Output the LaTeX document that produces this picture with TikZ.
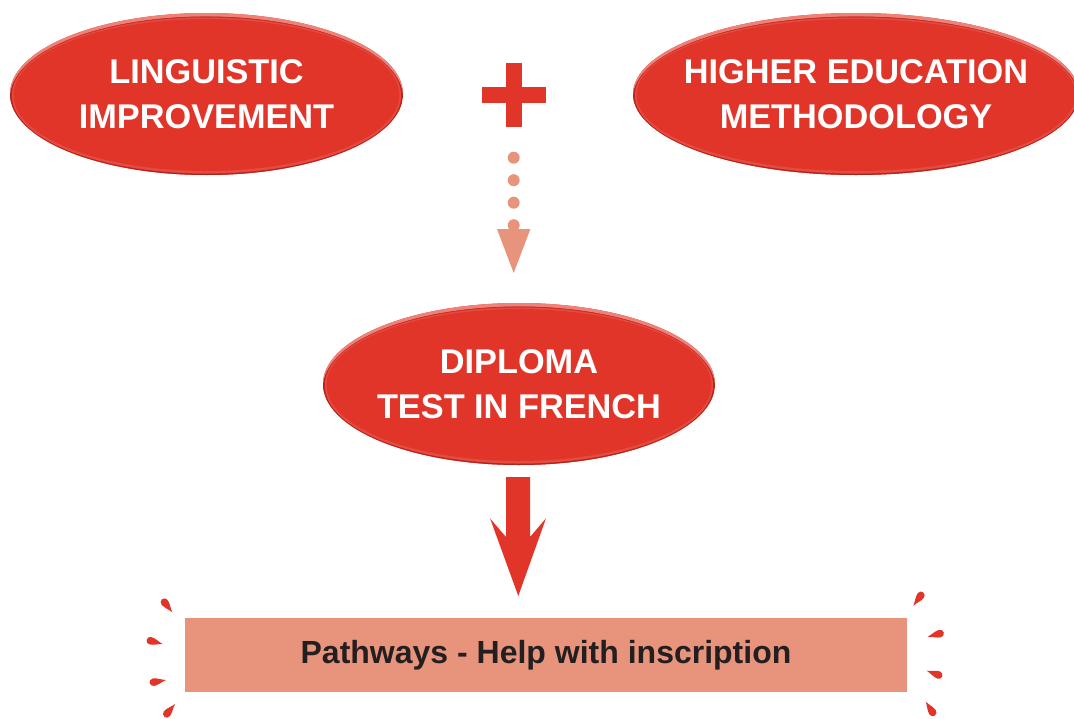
\documentclass[tikz,border=0pt]{standalone}
\usepackage{fontspec}
\setmainfont{Liberation Sans}
\usetikzlibrary{shapes.geometric,calc}
\definecolor{bred}{HTML}{E2352A}
\definecolor{rimlight}{HTML}{EE8178}
\definecolor{rimdark}{HTML}{B3231C}
\definecolor{salmon}{HTML}{E8937B}
\definecolor{darktext}{HTML}{231F20}
\newcommand\spark[3]{%
  \fill[bred, shift={(#1,#2)}, rotate=#3] (0,0) .. controls (4.5,1) and (8.5,3.8) .. (12.8,3.8)
    arc[start angle=90, end angle=-90, radius=3.8] .. controls (8.5,-3.8) and (4.5,-1) .. cycle;}
\begin{document}
\begin{tikzpicture}[x=1pt,y=1pt,
  eball/.style 2 args={ellipse, inner sep=0pt, fill=bred, minimum width=2*#1, minimum height=2*#2,
    path picture={
      \fill[rimlight] (path picture bounding box.south west) rectangle (path picture bounding box.north east);
      \fill[rimdark] ($(path picture bounding box.center)+(0,-3.5)$) ellipse[x radius=#1, y radius=#2];
      \fill[bred!60!rimdark] ($(path picture bounding box.center)+(0,-1.2)$) ellipse[x radius=#1-1.5, y radius=#2-2.5];
      \fill[bred!70!rimlight] ($(path picture bounding box.center)+(0,-1.5)$) ellipse[x radius=#1-2, y radius=#2-3];
      \fill[bred] ($(path picture bounding box.center)+(0,-1)$) ellipse[x radius=#1-3.5, y radius=#2-5];
    }},
  etext/.style={text=white, align=center, inner sep=0pt, font=\fontsize{34.3}{45}\selectfont\bfseries},
  pathbox/.style={fill=salmon, minimum width=722, minimum height=74, inner sep=0pt,
    text=darktext, font=\fontsize{32}{38}\selectfont\bfseries}]
\useasboundingbox (0,0) rectangle (1074,-718);

% ellipses
\node[eball={196.5}{81}] (e1) at (206.5,-94) {};
\node[etext] (t1) at (e1.center) {LINGUISTIC\\IMPROVEMENT};
\node[eball={223}{81}] (e2) at (856,-94) {};
\node[etext] (t2) at (e2.center) {HIGHER EDUCATION\\METHODOLOGY};
\node[eball={196}{81}] (e3) at (519,-384) {};
\node[etext] (t3) at (e3.center) {DIPLOMA\\TEST IN FRENCH};

% plus sign
\coordinate (plus) at (513.7,-95);
\fill[bred] ($(plus)+(-8,-32)$) rectangle ($(plus)+(8,32)$);
\fill[bred] ($(plus)+(-32,-8)$) rectangle ($(plus)+(32,8)$);

% dotted arrow
\foreach \yy in {157.7,180.2,202.7,225.2}
  \fill[salmon] (513.7,-\yy) circle[radius=6];
\coordinate (dtip) at (513.7,-273);
\fill[salmon] (497,-229) -- (530.4,-229) -- (dtip) -- cycle;

% rectangle
\node[pathbox] (box) at (546,-655) {Pathways - Help with inscription};

% big arrow
\coordinate (atop) at ($(e3.south)+(-1,-12)$);
\coordinate (atip) at (518.3,-596);
\fill[bred] ($(atop)+(-12,0)$) -- ($(atop)+(12,0)$) -- (530,-537) -- (546,-518.3)
  -- (atip) -- (490,-518.3) -- (506,-537) -- cycle;

% sparks
\spark{172.3}{-612.3}{127.7}
\spark{162.7}{-644}{165}
\spark{166}{-680}{190}
\spark{175}{-704}{230}
\spark{913.3}{-605.7}{53.7}
\spark{927.7}{-636.7}{14.3}
\spark{926.7}{-670.7}{-19.9}
\spark{925.7}{-701.7}{-57}
\end{tikzpicture}
\end{document}
